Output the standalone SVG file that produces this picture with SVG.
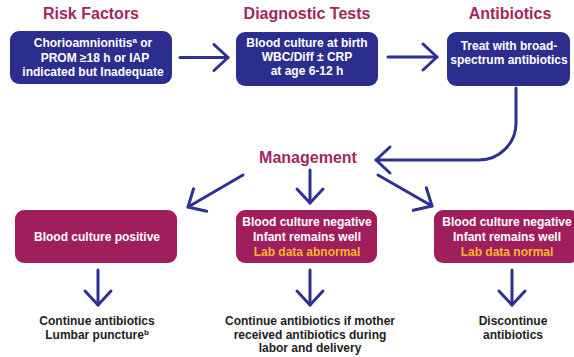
<svg xmlns="http://www.w3.org/2000/svg" width="574" height="357" viewBox="0 0 574 357">
<defs>
<style>
.title{font-family:"Liberation Sans",Arial,sans-serif;font-weight:bold;font-size:16px;fill:#a3265f;text-anchor:middle}
.bt{font-family:"Liberation Sans",Arial,sans-serif;font-weight:bold;font-size:12px;fill:#ffffff;text-anchor:middle}
.yt{fill:#f7b52c}
.ot{font-family:"Liberation Sans",Arial,sans-serif;font-weight:bold;font-size:12px;fill:#222222;text-anchor:middle}
.navy{fill:#2c2e8e}
.mag{fill:#a11e5c}
.conn{fill:none;stroke:#2e3192;stroke-width:3;stroke-linecap:round;stroke-linejoin:round}
</style>
<marker id="ah" markerUnits="userSpaceOnUse" markerWidth="40" markerHeight="40" viewBox="-20 -20 40 40" refX="0" refY="0" orient="auto" overflow="visible">
<path d="M -14 -13 L 0 0 L -14 13" fill="none" stroke="#2e3192" stroke-width="3" stroke-linecap="round" stroke-linejoin="round"/>
</marker>
</defs>
<rect width="574" height="357" fill="#ffffff"/>

<text class="title" x="91" y="19">Risk Factors</text>
<text class="title" x="307" y="19">Diagnostic Tests</text>
<text class="title" x="510" y="19">Antibiotics</text>

<g id="risk">
<rect class="navy" x="10" y="31" width="162" height="53" rx="9"/>
<text class="bt" x="93" y="47">Chorioamnionitis<tspan font-size="8" dy="-4">a</tspan><tspan dy="4"> or</tspan></text>
<text class="bt" x="95" y="61.5">PROM ≥18 h or IAP</text>
<text class="bt" x="93" y="76">indicated but Inadequate</text>
</g>

<g id="diag">
<rect class="navy" x="236" y="32" width="142" height="54" rx="9"/>
<text class="bt" x="307" y="47">Blood culture at birth</text>
<text class="bt" x="307" y="61">WBC/Diff ± CRP</text>
<text class="bt" x="307" y="75">at age 6-12 h</text>
</g>

<g id="abx">
<rect class="navy" x="447" y="32" width="123" height="54" rx="9"/>
<text class="bt" x="509" y="50">Treat with broad-</text>
<text class="bt" x="509" y="64">spectrum antibiotics</text>
</g>

<g id="mgmt">
<text class="title" x="308" y="163">Management</text>
</g>

<g id="pos">
<rect class="mag" x="15" y="210" width="162" height="53" rx="9"/>
<text class="bt" x="97" y="241">Blood culture positive</text>
</g>

<g id="negabn">
<rect class="mag" x="236" y="210" width="141" height="53" rx="9"/>
<text class="bt" x="307" y="226">Blood culture negative</text>
<text class="bt" x="307" y="241">Infant remains well</text>
<text class="bt yt" x="307" y="256">Lab data abnormal</text>
</g>

<g id="negnorm">
<rect class="mag" x="434" y="210" width="145" height="53" rx="9"/>
<text class="bt" x="507" y="226">Blood culture negative</text>
<text class="bt" x="507" y="241">Infant remains well</text>
<text class="bt yt" x="507" y="256">Lab data normal</text>
</g>

<g id="out1">
<text class="ot" x="97" y="325">Continue antibiotics</text>
<text class="ot" x="97" y="338.5">Lumbar puncture<tspan font-size="8" dy="-4">b</tspan></text>
</g>
<g id="out2">
<text class="ot" x="310" y="325">Continue antibiotics if mother</text>
<text class="ot" x="310" y="338.5">received antibiotics during</text>
<text class="ot" x="310" y="352">labor and delivery</text>
</g>
<g id="out3">
<text class="ot" x="513" y="325">Discontinue</text>
<text class="ot" x="513" y="338.5">antibiotics</text>
</g>

<g id="connectors">
<path class="conn" d="M 180 57.5 L 228 57.5" marker-end="url(#ah)"/>
<path class="conn" d="M 388 57 L 437 57" marker-end="url(#ah)"/>
<path class="conn" d="M 516 88 L 516 123 A 37 37 0 0 1 479 160 L 376 160" marker-end="url(#ah)"/>
<path class="conn" d="M 243 175 L 188 207" marker-end="url(#ah)"/>
<path class="conn" d="M 310 170 L 310 203" marker-end="url(#ah)"/>
<path class="conn" d="M 378 175 L 432 206" marker-end="url(#ah)"/>
<path class="conn" d="M 98 270 L 98 305" marker-end="url(#ah)"/>
<path class="conn" d="M 310 270 L 310 305" marker-end="url(#ah)"/>
<path class="conn" d="M 512 270 L 512 305" marker-end="url(#ah)"/>
</g>
</svg>
